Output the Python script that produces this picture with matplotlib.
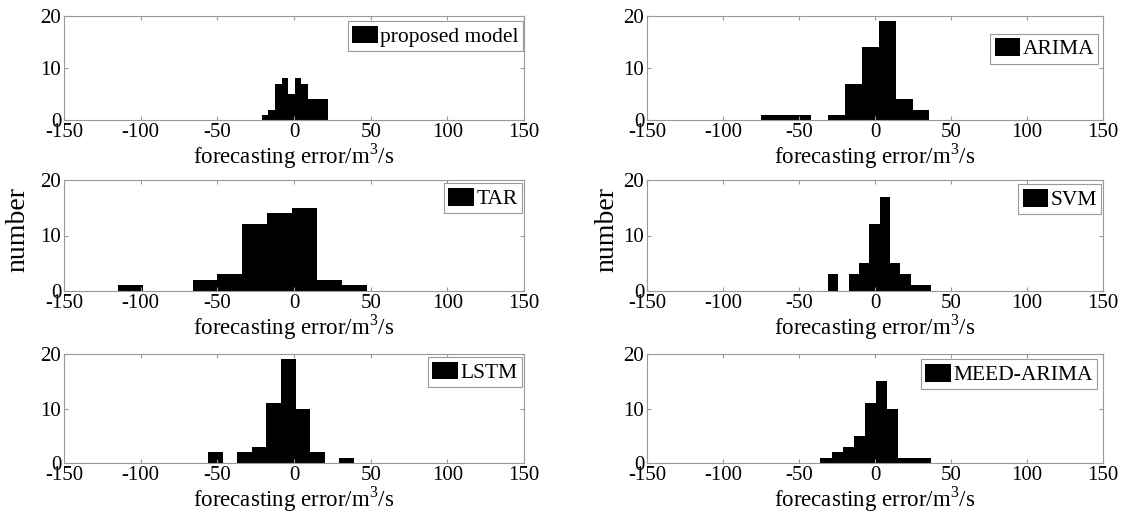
import numpy as np
import matplotlib
matplotlib.use('Agg')
import matplotlib.pyplot as plt

plt.rcParams['font.family'] = ['Liberation Serif', 'DejaVu Serif']
plt.rcParams['mathtext.fontset'] = 'custom'
plt.rcParams['mathtext.rm'] = 'Liberation Serif'
plt.rcParams['axes.unicode_minus'] = False

# ========== 数据：每个模型的直方图 (bin 边界 + 计数) ==========
names = ['proposed model', 'ARIMA', 'TAR', 'SVM', 'LSTM', 'MEED-ARIMA']

edges_proposed = [-21.0, -16.7, -12.4, -8.1, -3.8, 0.5, 4.8, 9.1, 13.4, 17.7, 22.0]
counts_proposed = [1, 2, 7, 8, 5, 8, 7, 4, 4, 4]

edges_arima = [-75.2, -64.1, -53.0, -41.9, -30.8, -19.7, -8.6, 2.5, 13.6, 24.7, 35.8]
counts_arima = [1, 1, 1, 0, 1, 7, 14, 19, 4, 2]

edges_tar = [-114.7, -98.5, -82.3, -66.1, -49.9, -33.7, -17.5, -1.3, 14.9, 31.1, 47.3]
counts_tar = [1, 0, 0, 2, 3, 12, 14, 15, 2, 1]

edges_svm = [-30.9, -24.1, -17.3, -10.5, -3.7, 3.1, 9.9, 16.7, 23.5, 30.3, 37.1]
counts_svm = [3, 0, 3, 5, 12, 17, 5, 3, 1, 1]

edges_lstm = [-56.0, -46.5, -37.0, -27.5, -18.0, -8.5, 1.0, 10.5, 20.0, 29.5, 39.0]
counts_lstm = [2, 0, 2, 3, 11, 19, 10, 2, 0, 1]

edges_meed = [-35.9, -28.6, -21.3, -14.0, -6.7, 0.6, 7.9, 15.2, 22.5, 29.8, 37.1]
counts_meed = [1, 2, 3, 5, 11, 15, 10, 1, 1, 1]

all_edges = [edges_proposed, edges_arima, edges_tar, edges_svm, edges_lstm, edges_meed]
all_counts = [counts_proposed, counts_arima, counts_tar, counts_svm, counts_lstm, counts_meed]

xticks = [-150, -100, -50, 0, 50, 100, 150]
yticks = [0, 10, 20]

# ========== 布局 (像素 -> 比例) ==========
W, H = 1131, 519
col_x = [(64, 524), (647, 1103)]
row_y = [(16, 120), (180, 291), (354, 463)]
legend_anchor = [(0.998, 0.95), (0.99, 0.83), (0.995, 0.97),
                 (0.996, 0.96), (0.995, 0.97), (0.987, 0.95)]

fig = plt.figure(figsize=(W / 100, H / 100), dpi=100)
gray = '#9a9a9a'

for i in range(6):
    r, c = i // 2, i % 2
    x0, x1 = col_x[c]
    y0, y1 = row_y[r]
    ax = fig.add_axes([x0 / W, 1 - y1 / H, (x1 - x0) / W, (y1 - y0) / H])

    e = np.array(all_edges[i])
    ax.bar(e[:-1], all_counts[i], width=np.diff(e), align='edge',
           color='black', linewidth=0, label=names[i])

    ax.set_xlim(-150, 150)
    ax.set_ylim(0, 20)
    ax.set_xticks(xticks)
    ax.set_yticks(yticks)
    ax.tick_params(direction='in', length=3, width=0.8, color=gray,
                   top=True, right=True, labelsize=15, pad=2)
    for s in ax.spines.values():
        s.set_color(gray)
        s.set_linewidth(0.8)
    ax.set_xlabel('forecasting error/m$^{\\mathrm{3}}$/s', fontsize=16.5, labelpad=0)

    leg = ax.legend(loc='upper right', bbox_to_anchor=legend_anchor[i],
                    borderaxespad=0, fontsize=15.5, fancybox=False,
                    handlelength=1.2, handleheight=0.9, handletextpad=0.1,
                    borderpad=0.2, framealpha=1)
    leg.get_frame().set_edgecolor(gray)
    leg.get_frame().set_linewidth(0.8)

fig.text(18 / W, 1 - 230 / H, 'number', rotation=90, fontsize=20,
         ha='center', va='center')
fig.text(607 / W, 1 - 230 / H, 'number', rotation=90, fontsize=20,
         ha='center', va='center')

fig.savefig('out.png', dpi=100)
